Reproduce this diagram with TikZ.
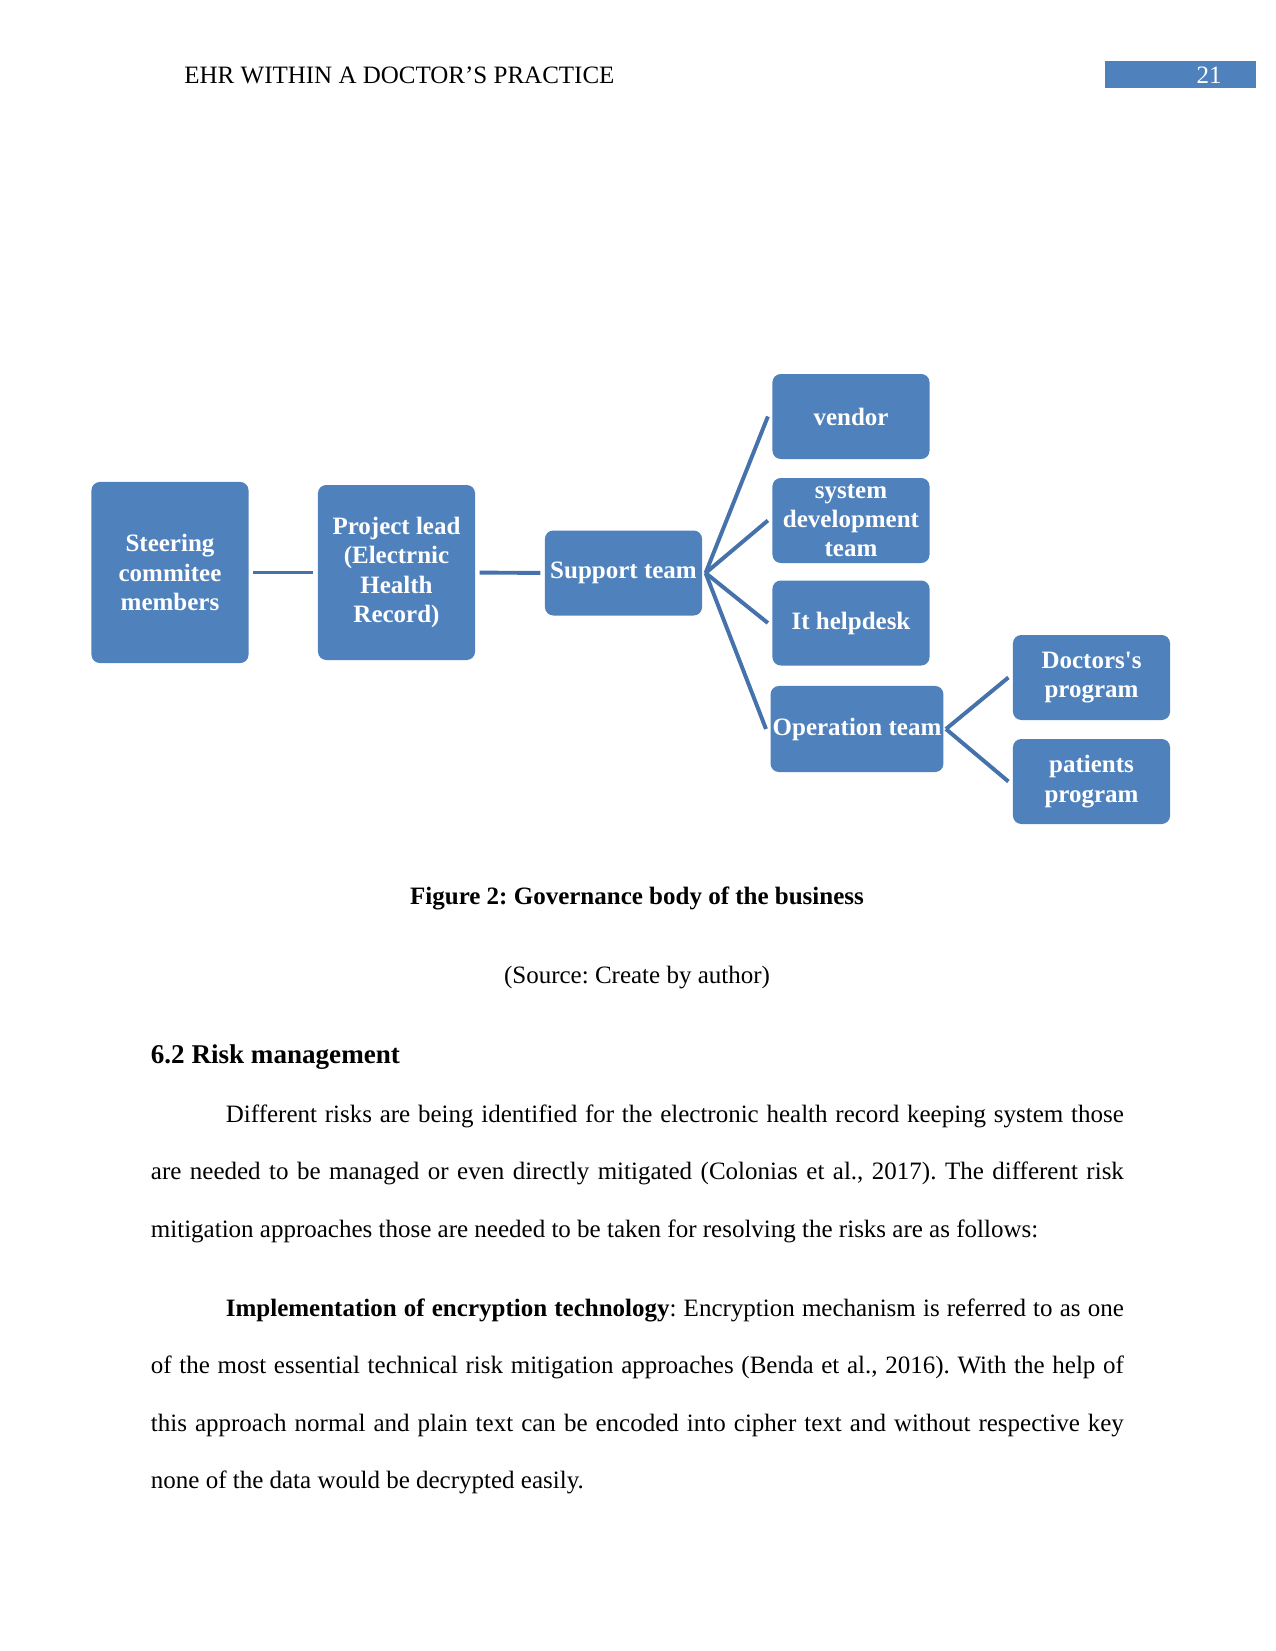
\documentclass[tikz,border=0pt]{standalone}
\usepackage{fontspec}
\setmainfont{Liberation Serif}
\definecolor{boxblue}{HTML}{4F81BD}
\definecolor{linkblue}{HTML}{4672AC}
\frenchspacing

\begin{document}
\begin{tikzpicture}[
        x=0.48pt, y=-0.48pt,
        % boxes of the chart
        orgbox/.style={fill=boxblue, rounded corners=4pt, text=white,
            font=\bfseries\fontsize{12}{14}\selectfont, align=center,
            inner sep=1pt, minimum width=75.4pt, minimum height=40.8pt},
        link/.style={draw=linkblue, line width=1.9pt},
        pagetext/.style={inner sep=0pt, font=\fontsize{12}{14.4}\selectfont},
        pagebold/.style={inner sep=0pt, font=\bfseries\fontsize{12}{14.4}\selectfont},
        bodytext/.style={anchor=base west, inner sep=0pt, text width=467pt,
            align=justify, font=\fontsize{12}{27.6}\selectfont},
    ]

    % ---- page ----
    \fill[white] (0,0) rectangle (1275,1651);
    \useasboundingbox (0,0) rectangle (1275,1651);

    % ---- header ----
    \node[pagetext, anchor=base west] (head) at (184,84) {EHR WITHIN A DOCTOR’S PRACTICE};
    \node[fill=boxblue, minimum width=72.5pt, minimum height=13pt, inner sep=0pt] (pgbox) at (1180.5,74.5) {};
    \node[pagetext, anchor=base, text=white] (pgnum) at (1209,84) {21};

    % ---- chart boxes ----
    \node[orgbox, minimum height=86.9pt] (steer) at (170,572.5) {Steering\\commitee\\members};
    \node[orgbox, minimum height=84pt] (lead) at (396.5,572.5) {Project lead\\(Electrnic\\Health\\Record)};
    \node[orgbox] (supp) at (623.5,573) {Support team};
    \node[orgbox] (vendor) at (851,416.5) {vendor};
    \node[orgbox] (sysdev) at (851,520.5) {system\\development\\team};
    \node[orgbox] (helpdesk) at (851,623) {It helpdesk};
    \node[orgbox, minimum width=81.6pt, minimum height=41.3pt] (optm) at (857,729) {Operation team};
    \node[orgbox] (docprog) at (1091.5,677.5) {Doctors\textquotesingle s\\program};
    \node[orgbox] (patprog) at (1091.5,781.5) {patients\\program};

    % ---- connectors ----
    \draw[link, shorten <=2pt, shorten >=2pt] (steer) -- (lead);
    \draw[link, shorten <=2pt, shorten >=2pt] (lead) -- (supp);
    \foreach \n in {vendor, sysdev, helpdesk, optm}
        \draw[link] ([xshift=1.5pt]supp.east) -- ([xshift=-2pt]\n.west);
    \foreach \n in {docprog, patprog}
        \draw[link] ([xshift=1pt]optm.east) -- ([xshift=-2pt]\n.west);

    % ---- caption ----
    \node[pagebold, anchor=base] (cap) at (637,904) {Figure 2: Governance body of the business};
    \node[pagetext, anchor=base] (src) at (637,983) {(Source: Create by author)};

    % ---- section text ----
    \node[pagebold, anchor=base west, font=\bfseries\fontsize{13}{15.6}\selectfont] (sec) at (150.5,1063) {6.2 Risk management};
    \node[bodytext] (para1) at (150.5,1122) {\hspace*{36pt}Different risks are being identified for the electronic health record keeping system those\linebreak
        are needed to be managed or even directly mitigated (Colonias et al., 2017). The different risk\linebreak
        mitigation approaches those are needed to be taken for resolving the risks are as follows:};
    \node[bodytext] (para2) at (150.5,1316) {\hspace*{36pt}\textbf{Implementation of encryption technology}: Encryption mechanism is referred to as one\linebreak
        of the most essential technical risk mitigation approaches (Benda et al., 2016). With the help of\linebreak
        this approach normal and plain text can be encoded into cipher text and without respective key\linebreak
        none of the data would be decrypted easily.};

\end{tikzpicture}
\end{document}
